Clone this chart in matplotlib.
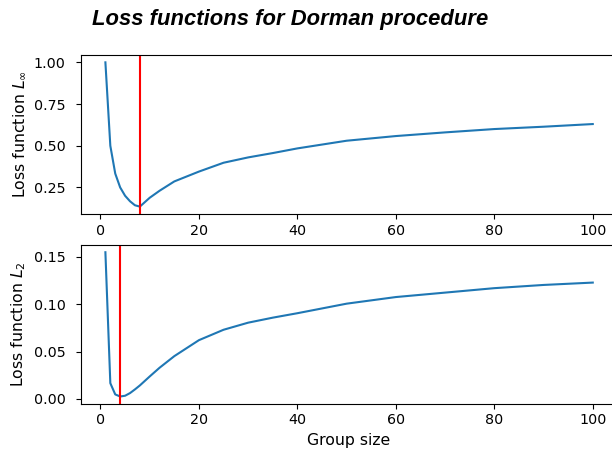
import matplotlib
matplotlib.use("Agg")
import matplotlib.pyplot as plt

# group sizes where the curves were read
group_size = [1, 2, 3, 4, 5, 6, 7, 8, 10, 12, 15, 20, 25, 30, 35, 40,
              50, 60, 70, 80, 90, 100]
loss_inf = [1.00, 0.50, 0.333, 0.25, 0.20, 0.167, 0.143, 0.135, 0.188, 0.230,
            0.286, 0.345, 0.398, 0.430, 0.456, 0.484,
            0.530, 0.558, 0.580, 0.600, 0.614, 0.630]
loss_2 = [0.155, 0.0165, 0.0046, 0.0024, 0.0032, 0.006, 0.0099, 0.0141, 0.0236, 0.0328,
          0.0451, 0.062, 0.073, 0.0805, 0.0858, 0.0905,
          0.1006, 0.1076, 0.1123, 0.117, 0.1204, 0.1229]
best_inf = 8   # optimum group size for L_inf
best_2 = 4     # optimum group size for L_2

x_ticks = [0, 20, 40, 60, 80, 100]
inf_ticks = [0.25, 0.50, 0.75, 1.00]
l2_ticks = [0.00, 0.05, 0.10, 0.15]

plt.rcParams['xtick.labelsize'] = 10.3
plt.rcParams['ytick.labelsize'] = 10.3
plt.rcParams['ytick.major.pad'] = 7.5
plt.rcParams['axes.labelsize'] = 11.3

fig = plt.figure(figsize=(6.12, 4.53), dpi=100)
ax1 = fig.add_axes([0.1324, 0.528, 0.876, 0.3503])
ax2 = fig.add_axes([0.1324, 0.1088, 0.876, 0.3503])

ax1.plot(group_size, loss_inf)
ax1.axvline(best_inf, color='red')
ax1.set_ylabel(r'Loss function $L_\infty$')
ax1.set_xticks(x_ticks)
ax1.set_yticks(inf_ticks)

ax2.plot(group_size, loss_2)
ax2.axvline(best_2, color='red')
ax2.set_ylabel(r'Loss function $L_2$')
ax2.set_xlabel('Group size')
ax2.set_xticks(x_ticks)
ax2.set_yticks(l2_ticks)

fig.text(290 / 612, 1 - 20 / 453, 'Loss functions for Dorman procedure',
         ha='center', va='center', fontsize=15.8, fontweight='bold',
         fontstyle='italic', family=['Liberation Sans', 'DejaVu Sans'])

fig.savefig('out.png', dpi=100)
